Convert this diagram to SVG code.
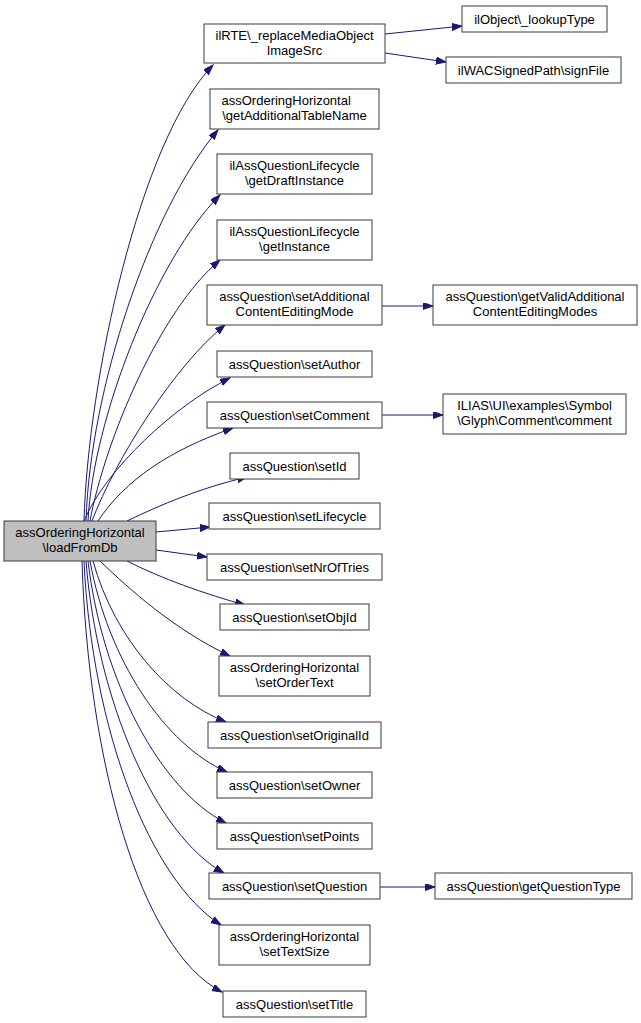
<svg xmlns="http://www.w3.org/2000/svg" width="641" height="1023" viewBox="0 0 641 1023">
<style>
.n rect{fill:#ffffff;stroke:#3a3a3a;stroke-width:1}
.root rect{fill:#bfbfbf}
.n text{font-family:"Liberation Sans",Arial,Helvetica,sans-serif;font-size:13px;fill:#000;text-anchor:middle}
.e path{fill:none;stroke:#191970;stroke-width:1;marker-end:url(#ah)}
</style>
<defs>
<marker id="ah" markerUnits="userSpaceOnUse" markerWidth="11" markerHeight="8" refX="10" refY="3.5" orient="auto">
<path d="M0,0 L10,3.5 L0,7 z" fill="#191970" stroke="#191970" stroke-width="1"/>
</marker>
</defs>
<rect width="641" height="1023" fill="#ffffff"/>
<g id="connectors" class="e">
<path d="M84,521 C88,380 140,140 213,65"/>
<path d="M86,521 C90,390 150,210 218,130"/>
<path d="M88,521 C93,420 155,260 220,195"/>
<path d="M90,521 C105,440 160,310 220,260"/>
<path d="M92,521 C115,460 175,365 225,325"/>
<path d="M84,521 C105,470 175,405 230,378"/>
<path d="M98,521 C125,480 170,450 233,428"/>
<path d="M127,521 C160,505 200,488 247,477"/>
<path d="M156,532 L210,527"/>
<path d="M156,550 L207,557"/>
<path d="M127,561 C160,578 205,594 245,605"/>
<path d="M100,561 C130,590 175,630 230,656"/>
<path d="M93,561 C115,640 170,700 226,722"/>
<path d="M90,561 C108,660 165,745 227,772"/>
<path d="M88,561 C102,680 160,790 226,823"/>
<path d="M86,561 C97,700 155,835 224,873"/>
<path d="M84,561 C92,730 150,880 221,925"/>
<path d="M82,561 C88,760 140,950 222,992"/>
<path d="M385,34 L462,26"/>
<path d="M385,53 L446,62"/>
<path d="M382,306 L433,306"/>
<path d="M382,415 L443,415"/>
<path d="M379,887 L435,887"/>
</g>
<g id="loadFromDb" class="n root"><rect x="4" y="521" width="152" height="40"/><text x="80" y="536.5">assOrderingHorizontal</text><text x="80" y="551.5">\loadFromDb</text></g>
<g id="replaceMediaObjectImageSrc" class="n"><rect x="204" y="24" width="181" height="39"/><text x="294.5" y="39.5">ilRTE\_replaceMediaObject</text><text x="294.5" y="54.5">ImageSrc</text></g>
<g id="lookupType" class="n"><rect x="462" y="6" width="145" height="26"/><text x="534.5" y="23.5">ilObject\_lookupType</text></g>
<g id="signFile" class="n"><rect x="446" y="57" width="175" height="26"/><text x="533.5" y="74.5">ilWACSignedPath\signFile</text></g>
<g id="getAdditionalTableName" class="n"><rect x="210" y="89" width="169" height="40"/><text x="221.5" y="104.5" style="text-anchor:start">assOrderingHorizontal</text><text x="294.5" y="119.5">\getAdditionalTableName</text></g>
<g id="getDraftInstance" class="n"><rect x="217" y="154" width="155" height="40"/><text x="294.5" y="169.5">ilAssQuestionLifecycle</text><text x="294.5" y="184.5">\getDraftInstance</text></g>
<g id="getInstance" class="n"><rect x="217" y="220" width="155" height="40"/><text x="294.5" y="235.5">ilAssQuestionLifecycle</text><text x="294.5" y="250.5">\getInstance</text></g>
<g id="setAdditionalContentEditingMode" class="n"><rect x="207" y="285" width="175" height="40"/><text x="294.5" y="300.5">assQuestion\setAdditional</text><text x="294.5" y="315.5">ContentEditingMode</text></g>
<g id="getValidAdditionalContentEditingModes" class="n"><rect x="433" y="285" width="204" height="40"/><text x="535" y="300.5">assQuestion\getValidAdditional</text><text x="535" y="315.5">ContentEditingModes</text></g>
<g id="setAuthor" class="n"><rect x="217" y="351" width="155" height="26"/><text x="294.5" y="368.5">assQuestion\setAuthor</text></g>
<g id="setComment" class="n"><rect x="207" y="402" width="175" height="26"/><text x="294.5" y="419.5">assQuestion\setComment</text></g>
<g id="comment" class="n"><rect x="443" y="394" width="183" height="40"/><text x="534.5" y="409.5">ILIAS\UI\examples\Symbol</text><text x="534.5" y="424.5">\Glyph\Comment\comment</text></g>
<g id="setId" class="n"><rect x="230" y="453" width="129" height="26"/><text x="294.5" y="470.5">assQuestion\setId</text></g>
<g id="setLifecycle" class="n"><rect x="209" y="503" width="171" height="26"/><text x="294.5" y="520.5">assQuestion\setLifecycle</text></g>
<g id="setNrOfTries" class="n"><rect x="207" y="554" width="175" height="26"/><text x="294.5" y="571.5">assQuestion\setNrOfTries</text></g>
<g id="setObjId" class="n"><rect x="220" y="604" width="149" height="26"/><text x="294.5" y="621.5">assQuestion\setObjId</text></g>
<g id="setOrderText" class="n"><rect x="219" y="656" width="151" height="40"/><text x="294.5" y="671.5">assOrderingHorizontal</text><text x="294.5" y="686.5">\setOrderText</text></g>
<g id="setOriginalId" class="n"><rect x="208" y="722" width="173" height="26"/><text x="294.5" y="739.5">assQuestion\setOriginalId</text></g>
<g id="setOwner" class="n"><rect x="217" y="772" width="155" height="26"/><text x="294.5" y="789.5">assQuestion\setOwner</text></g>
<g id="setPoints" class="n"><rect x="217" y="823" width="155" height="26"/><text x="294.5" y="840.5">assQuestion\setPoints</text></g>
<g id="setQuestion" class="n"><rect x="209" y="873" width="171" height="26"/><text x="294.5" y="890.5">assQuestion\setQuestion</text></g>
<g id="getQuestionType" class="n"><rect x="435" y="873" width="197" height="26"/><text x="533.5" y="890.5">assQuestion\getQuestionType</text></g>
<g id="setTextSize" class="n"><rect x="219" y="925" width="151" height="40"/><text x="294.5" y="940.5">assOrderingHorizontal</text><text x="294.5" y="955.5">\setTextSize</text></g>
<g id="setTitle" class="n"><rect x="223" y="991" width="143" height="26"/><text x="294.5" y="1008.5">assQuestion\setTitle</text></g>
</svg>
